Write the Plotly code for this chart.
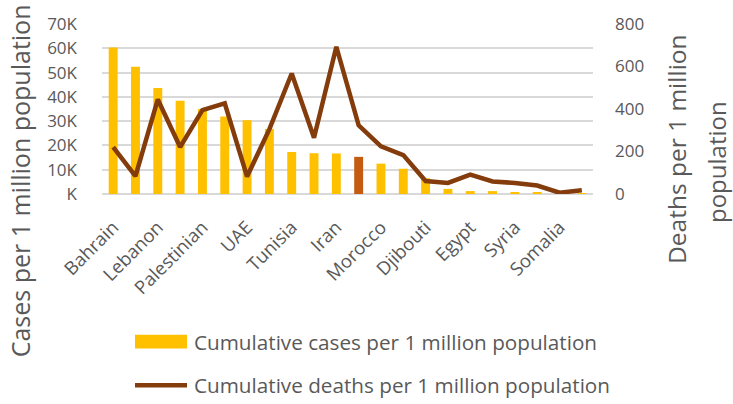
import plotly.graph_objects as go

# Countries ordered by cumulative cases per 1 million population
countries = [
    "Bahrain", "Qatar", "Lebanon", "Kuwait", "Palestinian", "Jordan",
    "UAE", "Oman", "Tunisia", "Libya", "Iran", "Iraq", "Morocco",
    "Saudi Arabia", "Djibouti", "Pakistan", "Egypt", "Afghanistan",
    "Syria", "Sudan", "Somalia", "Yemen",
]
cases_per_million = [
    60300, 52400, 43600, 38400, 35000, 31900, 30400, 26800, 17300, 16800,
    16700, 15300, 12500, 10400, 6500, 2100, 1200, 1200, 500, 500, 200, 70,
]
deaths_per_million = [
    221, 84, 445, 221, 395, 427, 82, 305, 567, 265, 693, 323, 224, 183,
    61, 52, 91, 59, 52, 40, 6, 18,
]
highlight = "Iraq"

left_tick_vals = [0, 10000, 20000, 30000, 40000, 50000, 60000, 70000]
left_tick_text = ["K", "10K", "20K", "30K", "40K", "50K", "60K", "70K"]
right_tick_vals = [0, 200, 400, 600, 800]

BAR = "#FFC000"
BAR_HI = "#C55A11"
LINE = "#843C0C"
TXT = "#595959"
GRID = "#D9D9D9"
FONT = "Open Sans"

bar_colors = [BAR_HI if c == highlight else BAR for c in countries]

fig = go.Figure()
fig.add_trace(go.Bar(
    x=countries, y=cases_per_million, marker=dict(color=bar_colors, line_width=0),
    name="Cumulative cases per 1 million population", showlegend=False,
))
fig.add_trace(go.Scatter(
    x=countries, y=deaths_per_million, yaxis="y2", mode="lines",
    line=dict(color=LINE, width=4.5),
    name="Cumulative deaths per 1 million population", showlegend=False,
))

fig.update_layout(
    width=733, height=404,
    margin=dict(l=102, r=140, t=19, b=210),
    paper_bgcolor="white", plot_bgcolor="white",
    font=dict(family=FONT, color=TXT, size=17),
    bargap=0.6,
    xaxis=dict(
        type="category", tickmode="array", tickvals=countries[::2],
        ticktext=countries[::2], tickangle=-45, showgrid=False,
        showline=False, ticks="", ticklabelstandoff=18,
        tickfont=dict(size=18.5),
    ),
    yaxis=dict(
        range=[0, 70000], tickmode="array", tickvals=left_tick_vals,
        ticktext=left_tick_text, showgrid=True, gridcolor=GRID, gridwidth=1.5,
        zeroline=True, zerolinecolor=GRID, zerolinewidth=1.5,
        showline=False, ticks="", ticklabelstandoff=24,
        tickfont=dict(size=17),
    ),
    yaxis2=dict(
        range=[0, 800], overlaying="y", side="right", tickmode="array",
        tickvals=right_tick_vals, showgrid=False, zeroline=False,
        showline=False, ticks="", ticklabelstandoff=21,
        tickfont=dict(size=17),
    ),
)

# Axis titles
fig.add_annotation(
    text="Cases per 1 million population", textangle=-90,
    xref="paper", yref="paper", x=(20 - 102) / 491, y=(194 - 181) / 175,
    showarrow=False, xanchor="center", yanchor="middle",
    font=dict(size=25, color=TXT),
)
fig.add_annotation(
    text="Deaths per 1 million", textangle=-90,
    xref="paper", yref="paper", x=(676 - 102) / 491, y=0.5, showarrow=False,
    xanchor="center", yanchor="middle", font=dict(size=24.5, color=TXT),
    yshift=-40,
)
fig.add_annotation(
    text="population", textangle=-90,
    xref="paper", yref="paper", x=(716 - 102) / 491, y=0.5, showarrow=False,
    xanchor="center", yanchor="middle", font=dict(size=24, color=TXT),
    yshift=-53,
)

# Legend
fig.add_shape(type="rect", xref="paper", yref="paper",
              x0=(135 - 102) / 491, x1=(187 - 102) / 491,
              y0=(194 - 353) / 175, y1=(194 - 339) / 175,
              fillcolor=BAR, line_width=0)
fig.add_shape(type="line", xref="paper", yref="paper",
              x0=(135 - 102) / 491, x1=(187 - 102) / 491,
              y0=(194 - 391) / 175, y1=(194 - 391) / 175,
              line=dict(color=LINE, width=4.5))
fig.add_annotation(
    text="Cumulative cases per 1 million population", xref="paper", yref="paper",
    x=(192 - 102) / 491, y=(194 - 346) / 175, xanchor="left", yanchor="middle",
    showarrow=False, font=dict(size=20.7, color=TXT),
)
fig.add_annotation(
    text="Cumulative deaths per 1 million population", xref="paper", yref="paper",
    x=(192 - 102) / 491, y=(194 - 391) / 175, xanchor="left", yanchor="middle",
    showarrow=False, font=dict(size=20.7, color=TXT),
)

fig.write_html("out.html")
